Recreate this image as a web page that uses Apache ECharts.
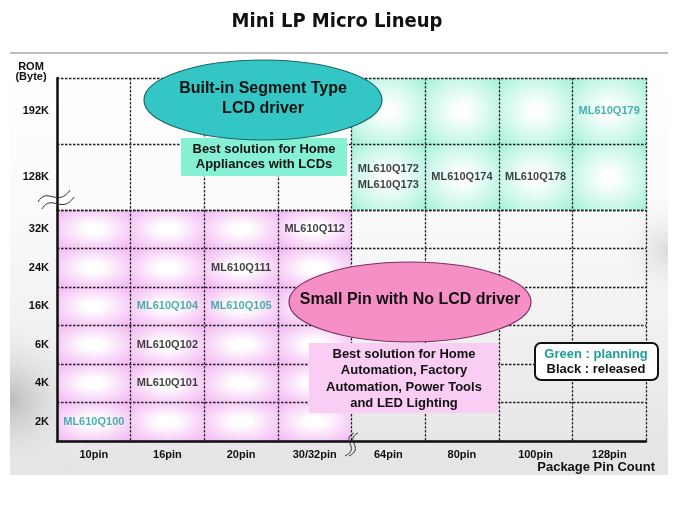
<!DOCTYPE html>
<html><head><meta charset="utf-8">
<script src="https://cdn.jsdelivr.net/npm/echarts@6/dist/echarts.min.js"></script>
<style>html,body{margin:0;padding:0;background:#fff}#c{width:675px;height:506px}</style>
</head><body><div id="c"></div>
<script>
// ---- data ----
const pinCounts = ['10pin','16pin','20pin','30/32pin','64pin','80pin','100pin','128pin'];
const lowerRomLevels = ['2K','4K','6K','16K','24K','32K'];
const upperRomLevels = ['128K','192K'];
const noLcdPins = ['10pin','16pin','20pin','30/32pin'];
const lcdPins = ['64pin','80pin','100pin','128pin'];
const productNames = ['ML610Q100','ML610Q101','ML610Q102','ML610Q104','ML610Q105','ML610Q111','ML610Q112','ML610Q172\nML610Q173','ML610Q174','ML610Q178','ML610Q179'];
const productPins  = ['10pin','16pin','16pin','16pin','20pin','20pin','30/32pin','64pin','80pin','100pin','128pin'];
const productRoms  = ['2K','4K','6K','16K','16K','24K','32K','128K','128K','128K','192K'];
const productStatus = ['planning','released','released','planning','planning','released','released','released','released','released','planning'];

const TEAL = '#1f9c9c';
const FONT = '"Liberation Sans", Arial, sans-serif';

const pinkCells = [];
noLcdPins.forEach(p => lowerRomLevels.forEach(r => pinkCells.push([pinCounts.indexOf(p), lowerRomLevels.indexOf(r)])));
const greenCells = [];
lcdPins.forEach(p => upperRomLevels.forEach(r => greenCells.push([pinCounts.indexOf(p), upperRomLevels.indexOf(r)])));

function cellRenderer(edge, mid, whiteStop, r) {
  return function (params, api) {
    const c = api.coord([api.value(0), api.value(1)]);
    const s = api.size([1, 1]);
    const h = s[1];
    return { type: 'rect', x: c[0], y: c[1], scaleX: s[0] / h, scaleY: 1,
      shape: { x: -h / 2, y: -h / 2, width: h, height: h },
      style: { fill: { type: 'radial', x: 0.5, y: 0.5, r: r, colorStops: [
        { offset: 0, color: '#ffffff' }, { offset: whiteStop, color: '#ffffff' },
        { offset: 0.7, color: mid }, { offset: 1, color: edge } ] } } };
  };
}

function productSeries(levels, xi, yi) {
  const data = [];
  productNames.forEach((n, i) => {
    if (levels.includes(productRoms[i])) {
      data.push({ name: n, value: [productPins[i], productRoms[i]],
        label: { color: productStatus[i] === 'planning' ? TEAL : '#111' } });
    }
  });
  return { type: 'scatter', xAxisIndex: xi, yAxisIndex: yi, symbolSize: 1, silent: true, z: 5,
    itemStyle: { color: 'rgba(0,0,0,0)' }, data: data,
    label: { show: true, position: 'inside', formatter: '{b}', fontWeight: 'bold', fontSize: 11,
      fontFamily: FONT, lineHeight: 16 } };
}

const dash = { show: true, lineStyle: { color: '#222', width: 1.3, type: [2.5, 1.5] } };

function blob(cx, cy, rx, ry, color) {
  return { type: 'ellipse', z: 0, silent: true, shape: { cx: cx, cy: cy, rx: rx, ry: ry },
    style: { fill: { type: 'radial', x: 0.5, y: 0.5, r: 0.5, colorStops: [
      { offset: 0, color: color }, { offset: 1, color: 'rgba(255,255,255,0)' } ] } } };
}

const chart = echarts.init(document.getElementById('c'), null, { renderer: 'canvas' });
chart.setOption({
  animation: false,
  grid: [
    { left: 57, top: 78, width: 589, height: 132 },
    { left: 57, top: 210, width: 589, height: 231 }
  ],
  xAxis: [
    { type: 'category', gridIndex: 0, data: pinCounts, z: 3, axisLine: { show: false }, axisTick: { show: false },
      axisLabel: { show: false }, splitLine: dash },
    { type: 'category', gridIndex: 1, data: pinCounts, z: 3,
      axisLine: { show: true, lineStyle: { color: '#111', width: 2.5 } }, axisTick: { show: false },
      axisLabel: { color: '#111', fontWeight: 'bold', fontSize: 11, fontFamily: FONT, margin: 8 }, splitLine: dash }
  ],
  yAxis: [
    { type: 'category', gridIndex: 0, data: upperRomLevels, z: 3,
      axisLine: { show: true, lineStyle: { color: '#111', width: 2.5 } }, axisTick: { show: false },
      axisLabel: { color: '#111', fontWeight: 'bold', fontSize: 11, fontFamily: FONT, margin: 8 }, splitLine: dash },
    { type: 'category', gridIndex: 1, data: lowerRomLevels, z: 3,
      axisLine: { show: true, lineStyle: { color: '#111', width: 2.5 } }, axisTick: { show: false },
      axisLabel: { color: '#111', fontWeight: 'bold', fontSize: 11, fontFamily: FONT, margin: 8 }, splitLine: dash }
  ],
  series: [
    { type: 'custom', xAxisIndex: 1, yAxisIndex: 1, data: pinkCells, z: 1, silent: true,
      renderItem: cellRenderer('#f4bff4', '#f8d6f8', 0.2, 0.62) },
    { type: 'custom', xAxisIndex: 0, yAxisIndex: 0, data: greenCells, z: 1, silent: true,
      renderItem: cellRenderer('#a6f0da', '#c8f7e9', 0.12, 0.68) },
    productSeries(upperRomLevels, 0, 0),
    productSeries(lowerRomLevels, 1, 1)
  ],
  graphic: [
    { type: 'rect', z: 0, silent: true, shape: { x: 10, y: 54, width: 658, height: 421 },
      style: { fill: { type: 'linear', x: 0, y: 0, x2: 0, y2: 1, colorStops: [
        { offset: 0, color: '#ffffff' }, { offset: 0.35, color: '#fbfbfb' }, { offset: 1, color: '#e4e4e4' } ] } } },
    blob(10, 400, 90, 260, 'rgba(175,175,175,0.8)'),
    blob(668, 250, 60, 220, 'rgba(200,200,200,0.6)'),
    { type: 'rect', z: 0, silent: true, shape: { x: 0, y: 475, width: 675, height: 31 }, style: { fill: '#ffffff' } },
    { type: 'rect', z: 0, silent: true, shape: { x: 0, y: 54, width: 10, height: 421 }, style: { fill: '#ffffff' } },
    { type: 'rect', z: 0, silent: true, shape: { x: 668, y: 54, width: 7, height: 421 }, style: { fill: '#ffffff' } },
    { type: 'line', z: 0, silent: true, shape: { x1: 10, y1: 53, x2: 668, y2: 53 }, style: { stroke: '#aaaaaa', lineWidth: 1.5 } },
    { type: 'text', z: 10, style: { text: 'Mini LP Micro Lineup', x: 337, y: 22, align: 'center', verticalAlign: 'middle',
      font: 'bold 20px "DejaVu Sans Condensed", "DejaVu Sans", sans-serif', fill: '#111' } },
    { type: 'text', z: 10, style: { text: 'ROM\n(Byte)', x: 31, y: 72, align: 'center', verticalAlign: 'middle',
      font: 'bold 11px ' + FONT, lineHeight: 10, fill: '#111' } },
    { type: 'text', z: 10, style: { text: 'Package Pin Count', x: 655, y: 467, align: 'right', verticalAlign: 'middle',
      font: 'bold 13px ' + FONT, fill: '#111' } },
    // axis break marks
    { type: 'bezierCurve', z: 10, shape: { x1: 38, y1: 202, cpx1: 47, cpy1: 186, cpx2: 58, cpy2: 208, x2: 70, y2: 190 }, style: { stroke: '#333', lineWidth: 1, fill: null } },
    { type: 'bezierCurve', z: 10, shape: { x1: 42, y1: 209, cpx1: 51, cpy1: 193, cpx2: 62, cpy2: 215, x2: 74, y2: 197 }, style: { stroke: '#333', lineWidth: 1, fill: null } },
    { type: 'bezierCurve', z: 10, shape: { x1: 354, y1: 433, cpx1: 340, cpy1: 440, cpx2: 361, cpy2: 448, x2: 345, y2: 456 }, style: { stroke: '#333', lineWidth: 1, fill: null } },
    { type: 'bezierCurve', z: 10, shape: { x1: 358, y1: 433, cpx1: 344, cpy1: 440, cpx2: 365, cpy2: 448, x2: 349, y2: 456 }, style: { stroke: '#333', lineWidth: 1, fill: null } },
    // LCD group
    { type: 'rect', z: 10, shape: { x: 181, y: 138, width: 166, height: 38 }, style: { fill: '#85f0d4' } },
    { type: 'text', z: 11, style: { text: 'Best solution for Home\nAppliances with LCDs', x: 264, y: 157, align: 'center', verticalAlign: 'middle',
      font: 'bold 13px ' + FONT, lineHeight: 15, fill: '#111' } },
    { type: 'ellipse', z: 12, shape: { cx: 263, cy: 100, rx: 119, ry: 40 }, style: { fill: '#33c6c4', stroke: '#1c6666', lineWidth: 1.2 } },
    { type: 'text', z: 13, style: { text: 'Built-in Segment Type\nLCD driver', x: 263, y: 99, align: 'center', verticalAlign: 'middle',
      font: 'bold 16px ' + FONT, lineHeight: 20, fill: '#111' } },
    // No LCD group
    { type: 'rect', z: 10, shape: { x: 309, y: 343, width: 189, height: 70 }, style: { fill: '#f9cdf4' } },
    { type: 'text', z: 11, style: { text: 'Best solution for Home\nAutomation, Factory\nAutomation, Power Tools\nand LED Lighting', x: 404, y: 379,
      align: 'center', verticalAlign: 'middle', font: 'bold 13px ' + FONT, lineHeight: 16.3, fill: '#111' } },
    { type: 'ellipse', z: 12, shape: { cx: 410, cy: 302, rx: 121, ry: 40 }, style: { fill: '#f58fc6', stroke: '#7a3060', lineWidth: 1.2 } },
    { type: 'text', z: 13, style: { text: 'Small Pin with No LCD driver', x: 410, y: 300, align: 'center', verticalAlign: 'middle',
      font: 'bold 16px ' + FONT, fill: '#111' } },
    // legend
    { type: 'rect', z: 10, shape: { x: 535, y: 343, width: 123, height: 37, r: 6 }, style: { fill: '#ffffff', stroke: '#111', lineWidth: 2 } },
    { type: 'text', z: 11, style: { text: 'Green : planning', x: 596, y: 354, align: 'center', verticalAlign: 'middle', font: 'bold 13px ' + FONT, fill: TEAL } },
    { type: 'text', z: 11, style: { text: 'Black : released', x: 596, y: 369, align: 'center', verticalAlign: 'middle', font: 'bold 13px ' + FONT, fill: '#111' } }
  ]
});
</script>
</body></html>
